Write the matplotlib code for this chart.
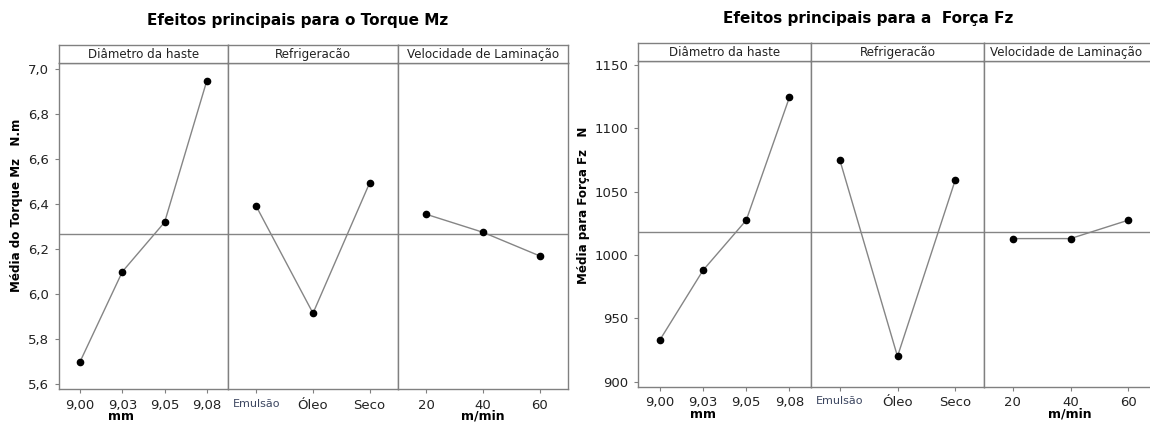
import matplotlib
matplotlib.use('Agg')
import matplotlib.pyplot as plt
import numpy as np

plt.rcParams['font.family'] = ['DejaVu Sans']

W, H = 1150, 426

# factor levels (tick labels)
diam_levels = ['9,00', '9,03', '9,05', '9,08']
refrig_levels = ['Emulsão', 'Óleo', 'Seco']
veloc_levels = ['20', '40', '60']
panel_titles = ['Diâmetro da haste', 'Refrigeracão', 'Velocidade de Laminação']

# torque Mz means
torque_diam = [5.70, 6.10, 6.32, 6.95]
torque_refrig = [6.39, 5.915, 6.495]
torque_veloc = [6.355, 6.275, 6.17]
torque_mean = 6.267
torque_ticks = [5.6, 5.8, 6.0, 6.2, 6.4, 6.6, 6.8, 7.0]

# force Fz means
force_diam = [933, 988, 1027.5, 1124.5]
force_refrig = [1075, 920, 1059]
force_veloc = [1013, 1013, 1027.5]
force_mean = 1018.3
force_ticks = [900, 950, 1000, 1050, 1100, 1150]

GRAY = '#808080'
LINE = '#858585'


def px_rect(x0, y_top, x1, y_bot):
    return [x0 / W, (H - y_bot) / H, (x1 - x0) / W, (y_bot - y_top) / H]


def draw_chart(fig, xs, y_head, y_top, y_bot, series, levels, mean, ylim,
               yticks, yfmt, title, title_xy, ylabel, ylabel_xy, units):
    for i in range(3):
        ax = fig.add_axes(px_rect(xs[i], y_top, xs[i + 1], y_bot))
        hx = fig.add_axes(px_rect(xs[i], y_head, xs[i + 1], y_top))
        hx.set_xticks([])
        hx.set_yticks([])
        right = min(xs[i + 1], W - 2)
        cx = ((xs[i] + right) / 2 - xs[i]) / (xs[i + 1] - xs[i])
        hx.text(cx, 0.45, panel_titles[i], ha='center', va='center',
                fontsize=8.6, color='#222222', transform=hx.transAxes)
        n = len(levels[i])
        pos = np.arange(1, n + 1)
        ax.axhline(mean, color=LINE, lw=1.0, zorder=1)
        ax.plot(pos, series[i], color=LINE, lw=1.0, zorder=2)
        ax.plot(pos, series[i], 'o', color='black', ms=4.5, zorder=3)
        ax.set_xlim(0.5, n + 0.5)
        ax.set_ylim(*ylim)
        ax.set_xticks(pos)
        ax.set_xticklabels(levels[i], fontsize=9.5, color='#222222')
        if i == 1:
            lab = ax.get_xticklabels()[0]
            lab.set_fontsize(8)
            lab.set_color('#3c4660')
        if i == 0:
            ax.set_yticks(yticks)
            ax.set_yticklabels([yfmt(v) for v in yticks], fontsize=9.5,
                               color='#222222')
        else:
            ax.set_yticks([])
        for a in (ax, hx):
            for s in a.spines.values():
                s.set_color(GRAY)
                s.set_linewidth(1.0)
        ax.tick_params(axis='both', length=3, width=0.8, color=GRAY, pad=4)
    fig.text(title_xy[0] / W, 1 - title_xy[1] / H, title, ha='center',
             va='center', fontsize=11, fontweight='bold')
    fig.text(ylabel_xy[0] / W, 1 - ylabel_xy[1] / H, ylabel, ha='center',
             va='center', rotation=90, fontsize=8.6, fontweight='bold')
    for (ux, uy, ut) in units:
        fig.text(ux / W, 1 - uy / H, ut, ha='center', va='center',
                 fontsize=9, fontweight='bold')


fig = plt.figure(figsize=(W / 100, H / 100), dpi=100)

draw_chart(fig, [59, 228, 398, 568], 45, 63, 389,
           [torque_diam, torque_refrig, torque_veloc],
           [diam_levels, refrig_levels, veloc_levels],
           torque_mean, (5.578, 7.028), torque_ticks,
           lambda v: f'{v:.1f}'.replace('.', ','),
           'Efeitos principais para o Torque Mz', (298, 21),
           'Média do Torque Mz   N.m', (17, 205),
           [(121, 417, 'mm'), (483, 416, 'm/min')])

draw_chart(fig, [638.3, 811, 984, 1157], 43.3, 60.7, 386.7,
           [force_diam, force_refrig, force_veloc],
           [diam_levels, refrig_levels, veloc_levels],
           force_mean, (896.1, 1153.4), force_ticks,
           lambda v: f'{v:d}',
           'Efeitos principais para a  Força Fz', (868, 19),
           'Média para Força Fz   N', (583, 205),
           [(703, 414, 'mm'), (1070, 414, 'm/min')])

fig.savefig('out.png', dpi=100)
